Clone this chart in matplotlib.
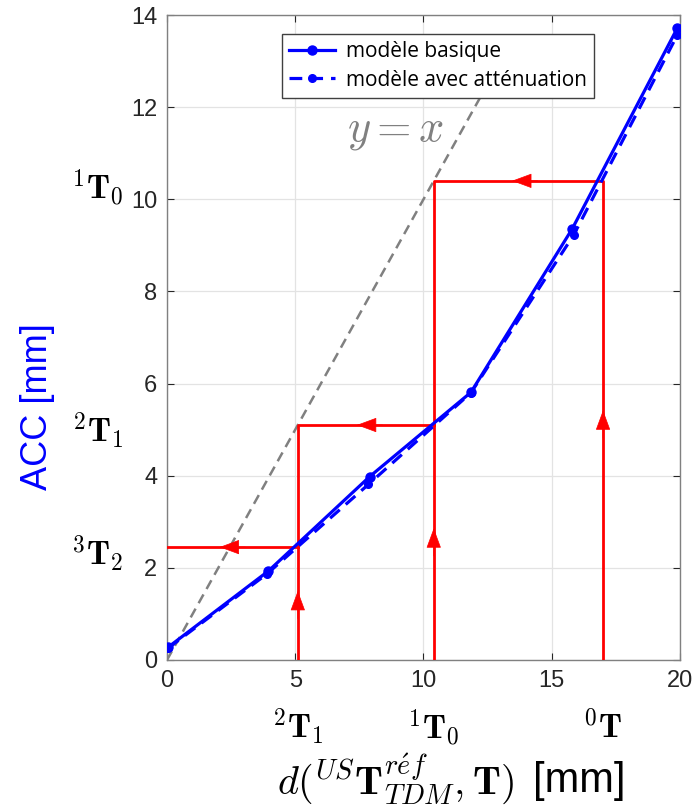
import matplotlib
matplotlib.use("Agg")
import matplotlib.pyplot as plt

plt.rcParams['mathtext.fontset'] = 'cm'

# data
x_basic = [0.05, 3.95, 7.9, 11.85, 15.8, 19.9]
y_basic = [0.28, 1.93, 3.98, 5.81, 9.36, 13.72]
x_att = [0.05, 3.9, 7.85, 11.85, 15.85, 19.9]
y_att = [0.26, 1.87, 3.81, 5.80, 9.22, 13.57]

# red reading path
pose_x = [17.0, 10.4, 5.1]
pose_y = [10.4, 5.1, 2.45]
x_tick_vals = [5.1, 10.4, 17.0]
x_tick_names = [r'$^2\mathbf{T}_1$', r'$^1\mathbf{T}_0$', r'$^0\mathbf{T}$']
y_tick_vals = [10.4, 5.1, 2.45]
y_tick_names = [r'$^1\mathbf{T}_0$', r'$^2\mathbf{T}_1$', r'$^3\mathbf{T}_2$']
up_arrow_tips = [5.42, 2.86, 1.5]
left_arrow_tips = [13.45, 7.4, 2.05]

fig = plt.figure(figsize=(6.97, 8.11), dpi=100)
ax = fig.add_axes([0.2396, 0.1862, 0.7360, 0.7953])

ax.set_xlim(0, 20)
ax.set_ylim(0, 14)
ax.grid(True, color='#e3e3e3', linewidth=0.9)
ax.set_axisbelow(True)

# y = x
ax.plot([0, 12.2], [0, 12.2], color='#808080', lw=1.8, dashes=(4, 2.5), zorder=2)
ax.text(8.9, 11.5, r'$y=x$', color='#808080', fontsize=32, ha='center', va='center')

red = '#ff0000'
ax.plot([pose_x[0], pose_x[0], pose_x[1], pose_x[1]], [0, pose_y[0], pose_y[0], 0], color=red, lw=2.0, zorder=3)
ax.plot([pose_x[1], pose_x[2], pose_x[2]], [pose_y[1], pose_y[1], 0], color=red, lw=2.0, zorder=3)
ax.plot([pose_x[2], 0], [pose_y[2], pose_y[2]], color=red, lw=2.0, zorder=3)

astyle = '-|>,head_length=0.65,head_width=0.24'
for xv, tip in zip(pose_x, up_arrow_tips):
    ax.annotate('', xy=(xv, tip), xytext=(xv, tip - 0.6),
                arrowprops=dict(arrowstyle=astyle, color=red, lw=0.5, mutation_scale=20,
                                shrinkA=0, shrinkB=0), zorder=4)
for yv, tip in zip(pose_y, left_arrow_tips):
    ax.annotate('', xy=(tip, yv), xytext=(tip + 1.0, yv),
                arrowprops=dict(arrowstyle=astyle, color=red, lw=0.5, mutation_scale=20,
                                shrinkA=0, shrinkB=0), zorder=4)

# model curves
ax.plot(x_basic, y_basic, '-', color='#0000ff', lw=2.3, marker='o', ms=6.5, label='modèle basique', zorder=5)
ax.plot(x_att, y_att, color='#0000ff', lw=2.3, marker='o', ms=5.5, dashes=(4, 2.5),
        label='modèle avec atténuation', zorder=5)

ax.set_xticks([0, 5, 10, 15, 20])
ax.set_yticks([0, 2, 4, 6, 8, 10, 12, 14])
ax.tick_params(direction='in', length=5, labelsize=17, colors='#262626', top=True, right=True, pad=7)
for lab in ax.get_xticklabels() + ax.get_yticklabels():
    lab.set_family('Liberation Sans')
for s in ax.spines.values():
    s.set_color('#808080')
    s.set_linewidth(1.0)

# extra labels
for xv, name in zip(x_tick_vals, x_tick_names):
    ax.text(xv, -1.47, name, fontsize=24, ha='center', va='center', clip_on=False)
for yv, name in zip(y_tick_vals, y_tick_names):
    ax.text(-1.7, yv - 0.15, name, fontsize=24, ha='right', va='center', clip_on=False)

fig.text(277 / 697, 1 - 779 / 811, r'$d(^{US}\mathbf{T}^{r\acute{e}f}_{TDM},\mathbf{T})$', fontsize=29,
         ha='left', va='center')
fig.text(533 / 697, 1 - 781 / 811, '[mm]', fontsize=30, family='Liberation Sans', ha='left', va='center')

ax.set_ylabel('ACC [mm]', fontsize=26, color='#0000ff', family='Liberation Sans')
ax.yaxis.set_label_coords((55 - 167) / 513, (660 - 407) / 645)

leg = ax.legend(loc='upper left', bbox_to_anchor=((282 - 167) / 513, (660 - 34) / 645),
                prop={'family': 'Open Sans', 'size': 15}, frameon=True,
                fancybox=False, edgecolor='#404040', framealpha=1, handlelength=2.2,
                borderpad=0.35, labelspacing=0.35, handletextpad=0.5, borderaxespad=0)
leg.get_frame().set_linewidth(1.0)

fig.savefig('out.png', dpi=100)
